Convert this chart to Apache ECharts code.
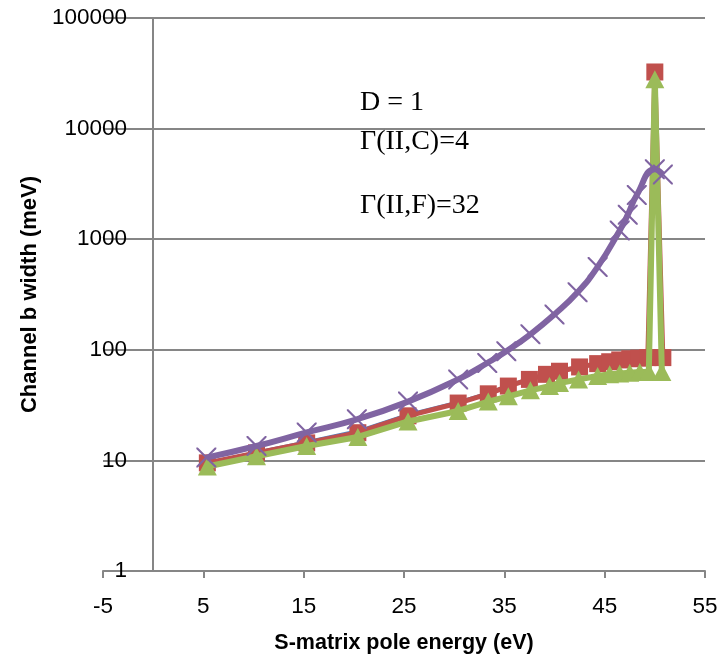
<!DOCTYPE html>
<html>
<head>
<meta charset="utf-8">
<script src="https://cdn.jsdelivr.net/npm/echarts@6/dist/echarts.min.js"></script>
<style>
html,body{margin:0;padding:0;background:#fff;}
#chart{width:727px;height:659px;}
</style>
</head>
<body>
<div id="chart"></div>
<script>
// ---- data ----
var xTickValues = [-5, 5, 15, 25, 35, 45, 55];
var yTickLabels = ['1', '10', '100', '1000', '10000', '100000'];

var blueX = [5.4, 10.3, 15.3, 20.4, 25.4, 30.4, 33.4, 35.4, 37.5, 39.2, 40.5, 42.5, 44.3, 45.5, 46.5, 47.5, 48.4, 49.3, 50.8];
var blueY = [9.6, 11.9, 14.8, 18.6, 26.2, 34, 41, 48, 55, 60, 64, 70, 75, 78, 81, 83, 84, 85, 85];

var redX = [5.4, 10.3, 15.3, 20.4, 25.4, 30.4, 33.4, 35.4, 37.5, 39.2, 40.5, 42.5, 44.3, 45.5, 46.5, 47.5, 48.4, 49.3, 50.0, 50.8];
var redY = [9.5, 11.7, 14.4, 17.8, 25.3, 33, 40, 47, 54, 60, 64, 70, 75, 78, 81, 83, 84, 85, 32500, 85];

var greenX = [5.4, 10.3, 15.3, 20.4, 25.4, 30.4, 33.4, 35.4, 37.6, 39.5, 40.5, 42.4, 44.3, 45.5, 46.5, 47.5, 48.5, 49.4, 50.0, 50.7];
var greenY = [8.8, 10.9, 13.5, 16.3, 22.5, 28, 34, 38, 43, 47, 50, 54, 58, 60, 61, 62, 63, 63, 28000, 63];

var purpleX = [5.3, 10.3, 15.3, 20.3, 25.4, 30.4, 33.3, 35.2, 37.6, 40.0, 42.3, 44.3, 46.5, 47.3, 48.2, 50.0, 50.8];
var purpleY = [10.6, 13.5, 17.9, 23.5, 34, 54, 76, 97, 138, 209, 331, 562, 1200, 1660, 2510, 4300, 3850];

var notes = ['D = 1', '\u0393(II,C)=4', '\u0393(II,F)=32'];

function pairs(xs, ys) { return xs.map(function (x, i) { return [x, ys[i]]; }); }

var axisGray = '#868686';
var sans = 'Liberation Sans';
var crossPath = 'path://M0,0L1.5,0L10,8.5L18.5,0L20,0L20,1.5L11.5,10L20,18.5L20,20L18.5,20L10,11.5L1.5,20L0,20L0,18.5L8.5,10L0,1.5Z';

var chart = echarts.init(document.getElementById('chart'));
chart.setOption({
  animation: false,
  backgroundColor: '#fff',
  grid: { left: 103, right: 22, top: 18, bottom: 87, containLabel: false },
  xAxis: {
    type: 'value', min: -5, max: 55,
    name: 'S-matrix pole energy (eV)', nameLocation: 'middle', nameGap: 61,
    nameTextStyle: { fontFamily: sans, fontWeight: 'bold', fontSize: 21.5, color: '#000' },
    axisLine: { onZero: false, lineStyle: { color: axisGray, width: 2 } },
    axisTick: { show: true, length: 7, customValues: xTickValues, lineStyle: { color: axisGray, width: 2 } },
    axisLabel: { customValues: xTickValues, fontFamily: sans, fontSize: 22.5, color: '#000', margin: 24 },
    splitLine: { show: false }
  },
  yAxis: [{
    type: 'log', logBase: 10, min: 1, max: 100000, offset: -26,
    name: 'Channel b width (meV)', nameLocation: 'middle', nameGap: 84,
    nameTextStyle: { fontFamily: sans, fontWeight: 'bold', fontSize: 22, color: '#000' },
    axisLine: { show: false }, axisTick: { show: false },
    axisLabel: { fontFamily: sans, fontSize: 22.5, color: '#000', margin: 2,
      formatter: function (v) { var i = Math.round(Math.log10(v)); return yTickLabels[i] || ''; } },
    splitLine: { show: true, lineStyle: { color: axisGray, width: 2 } }
  }, {
    type: 'log', logBase: 10, min: 1, max: 100000, offset: -50, position: 'left',
    axisLine: { show: true, lineStyle: { color: axisGray, width: 2 } },
    axisTick: { show: true, length: 6, lineStyle: { color: axisGray, width: 2 } },
    axisLabel: { show: false }, splitLine: { show: false }
  }],
  series: [{
    type: 'line', yAxisIndex: 0, data: pairs(blueX, blueY),
    symbol: 'none', lineStyle: { color: '#4F81BD', width: 2.5 }, z: 2
  }, {
    type: 'line', yAxisIndex: 0, data: pairs(redX, redY),
    symbol: 'rect', symbolSize: 17,
    itemStyle: { color: '#C0504D' }, lineStyle: { color: '#C0504D', width: 5 }, z: 3
  }, {
    type: 'line', yAxisIndex: 0, data: pairs(greenX, greenY),
    symbol: 'triangle', symbolSize: [19, 18],
    itemStyle: { color: '#9BBB59' }, lineStyle: { color: '#9BBB59', width: 6 }, z: 4
  }, {
    type: 'line', yAxisIndex: 0, data: pairs(purpleX, purpleY),
    smooth: 0.5, symbol: crossPath, symbolSize: 20,
    itemStyle: { color: '#8064A2' }, lineStyle: { color: '#8064A2', width: 6 }, z: 5
  }],
  graphic: notes.map(function (t, i) {
    return { type: 'text', left: 360, top: [89, 128, 192][i],
      style: { text: t, fontFamily: 'Liberation Serif', fontSize: 28, fill: '#000' }, z: 10 };
  })
});
</script>
</body>
</html>
